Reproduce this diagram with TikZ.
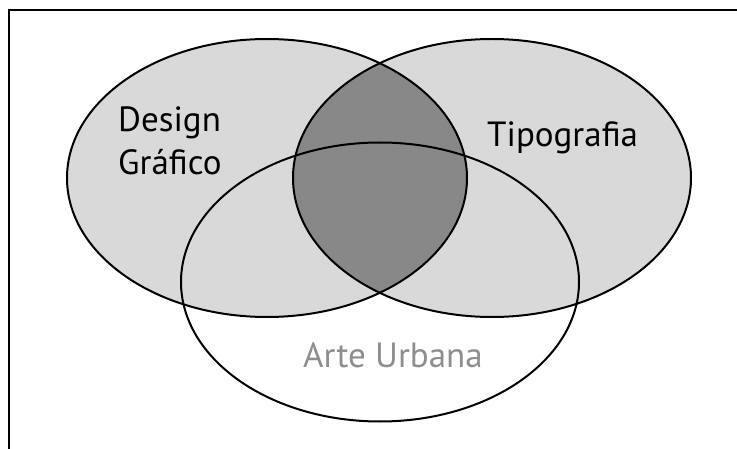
\documentclass[tikz,border=0pt]{standalone}
\usepackage{fontspec}
\setmainfont{PT Sans}
\usetikzlibrary{calc}
\definecolor{setfill}{HTML}{D9D9D9}
\definecolor{overlapfill}{HTML}{888888}
\definecolor{labelgray}{HTML}{8E8E8E}
\tikzset{
  setline/.style={black,line width=2pt},
  setlabel/.style={inner sep=0pt,font=\fontsize{35}{43}\selectfont},
}

\begin{document}
\begin{tikzpicture}[x=1pt,y=-1pt]

\useasboundingbox (0,0) rectangle (737,449);

\coordinate (design) at (267,178);
\coordinate (tipo) at (492,178);
\coordinate (urbana) at (380,282);

\fill[setfill] (design) ellipse [x radius=200pt,y radius=139pt];
\fill[setfill] (tipo) ellipse [x radius=199pt,y radius=139pt];
\begin{scope}
\clip (design) ellipse [x radius=200pt,y radius=139pt];
\fill[overlapfill] (tipo) ellipse [x radius=199pt,y radius=139pt];
\end{scope}

\draw[setline] (design) ellipse [x radius=200pt,y radius=139pt];
\draw[setline] (tipo) ellipse [x radius=199pt,y radius=139pt];
\draw[setline] (urbana) ellipse [x radius=199pt,y radius=139.5pt];

% frame, only top and left edges show
\coordinate (fbl) at (9,449);
\coordinate (ftl) at (9,10);
\coordinate (ftr) at (737,10);
\draw[black,line width=2.2pt] (fbl)--(ftl)--(ftr);

\node[setlabel,anchor=north west,align=left] (designlabel) at (118,107) {Design\\Gráfico};
\node[setlabel,anchor=base west] (tipolabel) at (487,147) {Tipografia};
\node[setlabel,anchor=base west,text=labelgray] (urbanalabel) at (303,367) {Arte Urbana};

\end{tikzpicture}
\end{document}
